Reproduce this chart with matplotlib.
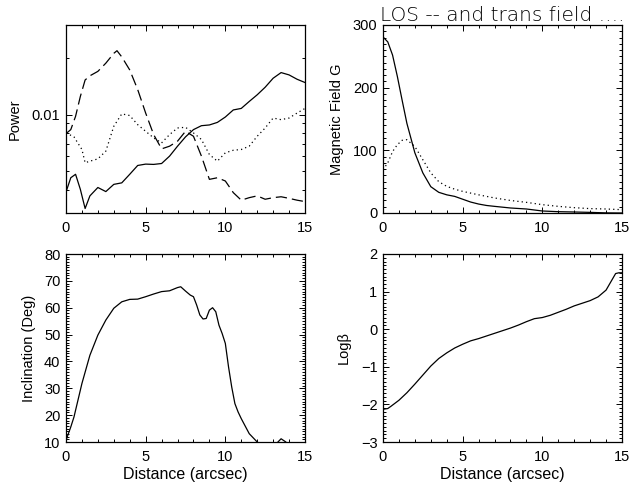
import numpy as np
import matplotlib
matplotlib.use("Agg")
import matplotlib.pyplot as plt
from matplotlib.ticker import MultipleLocator, FixedLocator, NullFormatter, FixedFormatter

plt.rcParams['font.family'] = ['Liberation Sans', 'DejaVu Sans']
plt.rcParams['font.size'] = 10.5
plt.rcParams['lines.solid_joinstyle'] = 'round'
plt.rcParams['lines.dash_joinstyle'] = 'round'

# ---- Power spectra along the cut ----
pow_dist = [0, 0.3, 0.6, 0.9, 1.2, 1.5, 2.0, 2.5, 3.0, 3.5, 4.0, 4.5, 5.0, 5.5, 6.0,
            6.5, 7.0, 7.5, 8.0, 8.5, 9.0, 9.5, 10.0, 10.5, 11.0, 11.5, 12.0, 12.5,
            13.0, 13.5, 14.0, 14.5, 15.0]
pow_solid = [0.00388, 0.00462, 0.00482, 0.00401, 0.00317, 0.00370, 0.00410, 0.00390,
             0.00426, 0.00434, 0.00482, 0.00537, 0.00546, 0.00544, 0.00550, 0.00602,
             0.00680, 0.00762, 0.00833, 0.00874, 0.00882, 0.00910, 0.00972, 0.01060,
             0.01080, 0.01176, 0.01276, 0.01400, 0.01563, 0.01675, 0.01628, 0.01544,
             0.01483]
pow_dash_dist = [0, 0.3, 0.6, 0.9, 1.2, 1.5, 2.0, 2.5, 3.0, 3.2, 3.5, 4.0, 4.5, 5.0,
                 5.5, 6.0, 6.5, 7.0, 7.5, 8.0, 8.5, 9.0, 9.5, 10.0, 10.5, 11.0, 11.5,
                 12.0, 12.5, 13.0, 13.5, 14.0, 14.5, 15.0]
pow_dash = [0.00793, 0.00833, 0.00980, 0.01250, 0.01530, 0.01610, 0.01700, 0.01880,
            0.02120, 0.02190, 0.02030, 0.01730, 0.01360, 0.01020, 0.00784, 0.00658,
            0.00680, 0.00723, 0.00816, 0.00768, 0.00602, 0.00453, 0.00462, 0.00444,
            0.00385, 0.00351, 0.00362, 0.00370, 0.00355, 0.00362, 0.00366, 0.00359,
            0.00351, 0.00345]
pow_dot_dist = [0, 0.5, 1.0, 1.2, 1.5, 2.0, 2.5, 3.0, 3.5, 4.0, 4.5, 5.0, 5.5, 6.0,
                6.5, 7.0, 7.5, 8.0, 8.5, 9.0, 9.5, 10.0, 10.5, 11.0, 11.5, 12.0, 12.5,
                13.0, 13.5, 14.0, 14.5, 15.0]
pow_dot = [0.00800, 0.00762, 0.00653, 0.00555, 0.00566, 0.00582, 0.00640, 0.00868,
           0.01010, 0.00990, 0.00885, 0.00816, 0.00753, 0.00708, 0.00784, 0.00850,
           0.00857, 0.00800, 0.00738, 0.00614, 0.00566, 0.00627, 0.00647, 0.00653,
           0.00680, 0.00768, 0.00850, 0.00960, 0.00941, 0.00960, 0.01020, 0.01080]

# ---- Magnetic field strength ----
b_dist = [0, 0.3, 0.6, 0.9, 1.2, 1.5, 2.0, 2.5, 3.0, 3.5, 4.0, 4.5, 5.0, 5.5, 6.0,
          6.5, 7.0, 8.0, 9.0, 10.0, 11.0, 12.0, 13.0, 14.0, 15.0]
b_los = [281, 273, 252, 218, 180, 143, 96, 64, 42, 33, 29, 26.5, 22, 17.5, 14.3,
         12, 10.6, 8, 6.4, 3.2, 2.1, 1.6, 1.0, 0.2, 0.0]
bt_dist = [0, 0.3, 0.6, 0.9, 1.2, 1.5, 2.0, 2.5, 3.0, 3.5, 4.0, 4.5, 5.0, 6.0, 7.0,
           8.0, 9.0, 10.0, 11.0, 12.0, 13.0, 14.0, 15.0]
b_trans = [69, 80, 98, 109, 116, 117, 106, 85, 64, 50, 42.5, 38, 34.5, 29, 24, 20,
           17, 13.3, 10.6, 8.5, 7.0, 6.4, 5.3]

# ---- Field inclination ----
inc_dist = [0, 0.3, 0.5, 1.0, 1.5, 2.0, 2.5, 3.0, 3.5, 4.0, 4.5, 5.0, 5.5, 6.0, 6.5,
            7.0, 7.2, 7.5, 7.8, 8.0, 8.2, 8.4, 8.6, 8.8, 9.0, 9.2, 9.4, 9.6, 9.8,
            10.0, 10.2, 10.4, 10.6, 10.8, 11.0, 11.5, 12.0, 12.5, 13.0, 13.3, 13.5,
            13.8, 14.0, 15.0]
inc_deg = [10.6, 15.6, 19.3, 31.8, 42.3, 49.8, 55.4, 59.8, 62.2, 63.1, 63.2, 64.1,
           65.1, 66.0, 66.3, 67.5, 67.8, 66.2, 64.7, 64.1, 61.0, 57.3, 55.8, 56.0,
           59.1, 60.0, 58.5, 53.5, 50.4, 46.7, 38.0, 30.5, 24.3, 21.2, 18.7, 13.1,
           10.0, 8.1, 7.0, 10.0, 11.2, 10.0, 7.0, 5.0]

# ---- Plasma beta ----
beta_dist = [0, 0.3, 0.5, 1.0, 1.5, 2.0, 2.5, 3.0, 3.5, 4.0, 4.5, 5.0, 5.5, 6.0, 6.5,
             7.0, 7.5, 8.0, 8.5, 9.0, 9.5, 10.0, 10.5, 11.0, 11.5, 12.0, 12.5, 13.0,
             13.5, 14.0, 14.3, 14.6, 14.8, 15.0]
log_beta = [-2.13, -2.11, -2.05, -1.89, -1.69, -1.46, -1.22, -0.98, -0.78, -0.63,
            -0.50, -0.40, -0.31, -0.25, -0.18, -0.11, -0.04, 0.03, 0.11, 0.20, 0.28,
            0.31, 0.37, 0.45, 0.53, 0.62, 0.69, 0.76, 0.86, 1.04, 1.26, 1.48, 1.50,
            1.50]

W, H = 629, 488
fig = plt.figure(figsize=(W / 100, H / 100), dpi=100)


def box(x0, y0, x1, y1):
    return [x0 / W, 1 - y1 / H, (x1 - x0) / W, (y1 - y0) / H]


ax_p = fig.add_axes(box(66, 25, 305, 213))
ax_b = fig.add_axes(box(383, 25, 622, 213))
ax_i = fig.add_axes(box(66, 254, 305, 442))
ax_l = fig.add_axes(box(383, 254, 622, 442))

lw = 0.9
for ax in (ax_p, ax_b, ax_i, ax_l):
    ax.set_xlim(0, 15)
    ax.xaxis.set_major_locator(MultipleLocator(5))
    ax.xaxis.set_minor_locator(MultipleLocator(1))
    ax.tick_params(which='both', direction='in', top=True, right=True, width=0.7)
    ax.tick_params(which='major', length=4.5)
    ax.tick_params(which='minor', length=2.5)
    ax.tick_params(axis='x', pad=6)
    ax.tick_params(axis='y', pad=4)
    for s in ax.spines.values():
        s.set_linewidth(0.9)

# Power
ax_p.plot(pow_dist, pow_solid, color='black', lw=lw)
ax_p.plot(pow_dash_dist, pow_dash, color='black', lw=lw, dashes=(9, 4))
ax_p.plot(pow_dot_dist, pow_dot, color='black', lw=lw, dashes=(1, 2.5))
ax_p.set_yscale('log')
ax_p.set_ylim(0.003, 0.03)
ax_p.yaxis.set_major_locator(FixedLocator([0.01]))
ax_p.yaxis.set_major_formatter(FixedFormatter(['0.01']))
ax_p.yaxis.set_minor_locator(FixedLocator([0.003, 0.004, 0.005, 0.006, 0.007, 0.008,
                                           0.009, 0.02, 0.03]))
ax_p.yaxis.set_minor_formatter(NullFormatter())
ax_p.set_ylabel('Power', labelpad=7)

# Magnetic field
ax_b.plot(b_dist, b_los, color='black', lw=lw)
ax_b.plot(bt_dist, b_trans, color='black', lw=lw, dashes=(1, 2.5))
ax_b.set_ylim(0, 300)
ax_b.yaxis.set_major_locator(MultipleLocator(100))
ax_b.yaxis.set_minor_locator(MultipleLocator(10))
ax_b.set_ylabel('Magnetic Field G', labelpad=6)
ax_b.set_title('LOS -- and trans field ....', fontsize=14.5, color='black',
               family=['DejaVu Sans'], fontweight='light', pad=2)

# Inclination
ax_i.plot(inc_dist, inc_deg, color='black', lw=lw)
ax_i.set_ylim(10, 80)
ax_i.yaxis.set_major_locator(MultipleLocator(10))
ax_i.yaxis.set_minor_locator(MultipleLocator(1))
ax_i.set_ylabel('Inclination (Deg)', labelpad=6)
ax_i.set_xlabel('Distance (arcsec)', labelpad=2, fontsize=11.5)

# Plasma beta
ax_l.plot(beta_dist, log_beta, color='black', lw=lw)
ax_l.set_ylim(-3, 2)
ax_l.yaxis.set_major_locator(MultipleLocator(1))
ax_l.yaxis.set_minor_locator(MultipleLocator(0.1))
ax_l.set_yticks([2, 1, 0, -1, -2, -3])
ax_l.set_yticklabels(['2', '1', '0', '\u22121', '\u22122', '\u22123'])
ax_l.set_ylabel('Log\u03b2', labelpad=7)
ax_l.set_xlabel('Distance (arcsec)', labelpad=2, fontsize=11.5)

fig.savefig('out.png', dpi=100)
